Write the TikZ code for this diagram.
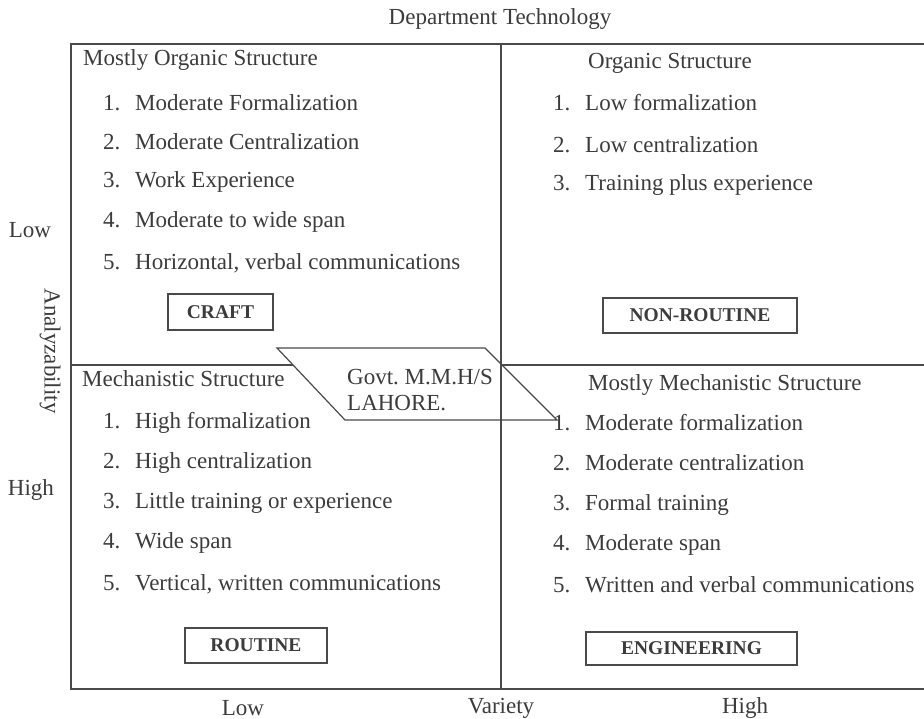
\documentclass[tikz,border=0pt]{standalone}
\usepackage{fontspec}
\setmainfont{Liberation Serif}
\definecolor{inkgray}{HTML}{3C3C3C}
\definecolor{rulegray}{HTML}{4A4A4A}
\begin{document}
\begin{tikzpicture}[x=1pt,y=-1pt,
  rule/.style={draw=rulegray, line width=1.3pt},
  lbl/.style={inner sep=0pt, text=inkgray, font=\fontsize{23}{26}\selectfont},
  item/.style={lbl, anchor=west},
  head/.style={lbl, anchor=west},
  tag/.style={draw=rulegray, line width=1.2pt, text=inkgray,
    font=\bfseries\fontsize{19.5}{22}\selectfont, inner sep=0pt}]
\newcommand{\num}[1]{\makebox[32pt][l]{#1}}
\useasboundingbox (0,0) rectangle (924,719);
\fill[white] (0,0) rectangle (924,719);

% frame and quadrant dividers
\coordinate (tl) at (71,44);
\coordinate (tr) at (924,44);
\coordinate (bl) at (71,689);
\coordinate (br) at (924,689);
\coordinate (vt) at (501,44);
\coordinate (vb) at (501,689);
\coordinate (hl) at (71,365);
\coordinate (hr) at (924,365);
\draw[rule] (tr) -- (tl) -- (bl) -- (br);
\draw[rule] (hl) -- (hr);

% axis labels
\node[lbl] (dept) at (500,19) {Department Technology};
\node[lbl] (alow) at (30,230) {Low};
\node[lbl, rotate=-90] (anlz) at (50,351) {Analyzability};
\node[lbl] (ahigh) at (31,490) {High};
\node[lbl] (vlow) at (243,708) {Low};
\node[lbl] (vvar) at (501,708) {Variety};
\node[lbl] (vhigh) at (745,708) {High};

% craft quadrant
\node[head] (crafth) at (83,60) {Mostly Organic Structure};
\node[item] (c1) at (103,103) {\num{1.}Moderate Formalization};
\node[item] (c2) at (103,142) {\num{2.}Moderate Centralization};
\node[item] (c3) at (103,182) {\num{3.}Work Experience};
\node[item] (c4) at (103,222) {\num{4.}Moderate to wide span};
\node[item] (c5) at (103,263) {\num{5.}Horizontal, verbal communications};
\node[tag, minimum width=105pt, minimum height=36pt] (craft) at (220.5,312) {CRAFT};

% non-routine quadrant
\node[lbl] (nrh) at (670,63) {Organic Structure};
\node[item] (n1) at (553,103) {\num{1.}Low formalization};
\node[item] (n2) at (553,145) {\num{2.}Low centralization};
\node[item] (n3) at (553,185) {\num{3.}Training plus experience};
\node[tag, minimum width=194pt, minimum height=35pt] (nonroutine) at (700,315.5) {NON-ROUTINE};

% routine quadrant
\node[head] (rth) at (82,379) {Mechanistic Structure};
\node[item] (r1) at (103,423) {\num{1.}High formalization};
\node[item] (r2) at (103,463) {\num{2.}High centralization};
\node[item] (r3) at (103,503) {\num{3.}Little training or experience};
\node[item] (r4) at (103,543) {\num{4.}Wide span};
\node[item] (r5) at (103,584) {\num{5.}Vertical, written communications};
\node[tag, minimum width=142pt, minimum height=35pt] (routine) at (256,645.5) {ROUTINE};

% engineering quadrant
\node[head] (engh) at (588,385) {Mostly Mechanistic Structure};
\node[item] (e1) at (553,423) {\num{1.}Moderate formalization};
\node[item] (e2) at (553,463) {\num{2.}Moderate centralization};
\node[item] (e3) at (553,505) {\num{3.}Formal training};
\node[item] (e4) at (553,545) {\num{4.}Moderate span};
\node[item] (e5) at (553,585) {\num{5.}Written and verbal communications};
\node[tag, minimum width=211pt, minimum height=33pt] (engineering) at (691.5,648.5) {ENGINEERING};

% school stamp in the centre; the vertical divider runs over it
\coordinate (p1) at (277,348);
\coordinate (p2) at (485,348);
\coordinate (p3) at (557,420);
\coordinate (p4) at (345,420);
\fill[white] (p1) -- (p2) -- (p3) -- (p4) -- cycle;
\draw[draw=rulegray, line width=1.2pt] (p1) -- (p2) -- (p3) -- (p4) -- cycle;
\draw[rule] (vt) -- (vb);
\node[lbl, anchor=west] (govt) at (347,377) {Govt.\ M.M.H/S};
\node[lbl, anchor=west] (lahore) at (347,403) {LAHORE.};
\end{tikzpicture}
\end{document}
